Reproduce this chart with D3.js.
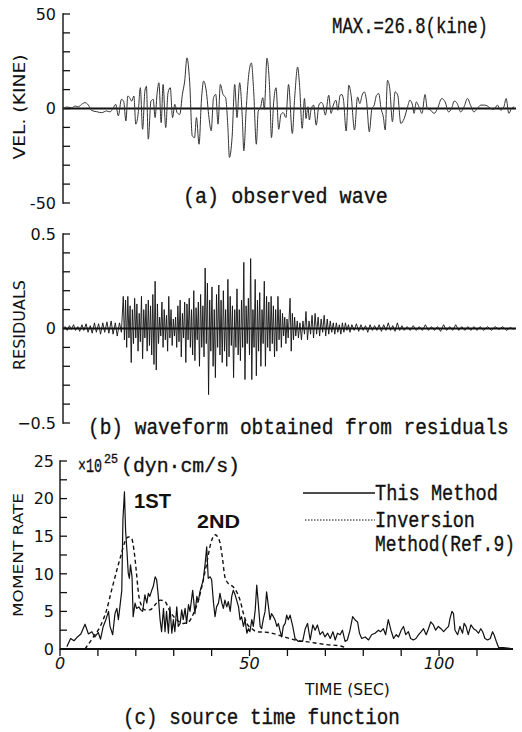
<!DOCTYPE html>
<html>
<head>
<meta charset="utf-8">
<script src="https://cdn.jsdelivr.net/npm/d3@7"></script>
<style>
	body { margin: 0; background: #fff; }
	svg { display: block; }
</style>
</head>
<body>
<svg id="chart" width="522" height="732"></svg>
<script>
// (a) observed velocity wave, [time (s), kine]
var observedWave = [
	[0,-0.4],[1.0,0.8],[2.3,0.4],[3.2,1.3],[4.0,0.8],[4.9,2.2],[5.8,3.1],[6.7,1.8],[7.5,-1.0],[8.9,-1.7],
	[10.2,-2.2],[11.5,-1.3],[12.4,-1.8],[13.2,0.1],[13.9,2.2],[14.6,-3.9],[15.4,4.8],[16.0,3.9],[16.6,-6.6],[17.1,6.6],
	[17.6,5.7],[18.1,3.9],[18.7,6.6],[19.2,-8.3],[19.8,-3.1],[20.4,11.0],[21.0,-11.0],[21.6,9.2],[22.0,11.8],[22.5,-16.2],
	[23.2,3.9],[23.8,4.8],[24.3,-4.8],[24.8,7.5],[25.3,13.6],[25.9,-7.5],[26.4,12.7],[27.1,-10.1],[27.7,8.3],[28.3,11.0],
	[28.9,-4.8],[29.5,2.2],[30.1,-2.2],[30.8,-3.1],[31.5,7.5],[32.1,14.5],[32.7,26.8],[33.4,14.5],[34.1,-14.5],[34.7,-15.4],
	[35.2,-4.8],[35.9,-18.9],[36.5,3.9],[37.1,14.5],[37.8,9.2],[38.5,-4.8],[39.1,-11.8],[39.7,5.7],[40.3,7.5],[40.9,-8.3],
	[41.5,12.7],[42.2,7.5],[42.9,5.7],[43.5,-10.1],[43.9,-25.9],[44.6,-15.4],[45.3,12.7],[45.9,-4.8],[46.6,13.6],[47.3,-4.8],
	[47.7,-22.4],[48.3,-1.3],[49.0,18.0],[49.7,24.1],[50.3,9.2],[51.0,-18.9],[51.5,-1.3],[52.1,0.4],[52.7,5.7],[53.1,-0.4],
	[53.8,26.6],[54.5,11.0],[55.0,-15.4],[55.6,3.9],[56.2,11.0],[56.9,-11.0],[57.5,-3.1],[58.1,-2.2],[58.8,-4.8],[59.5,12.7],
	[60.5,-13.2],[61.1,5.3],[61.9,21.9],[62.4,12.3],[63.1,-10.5],[63.7,5.3],[64.1,-5.3],[64.6,0.9],[65.0,-6.1],[65.4,-0.9],
	[66.1,1.8],[66.8,-8.8],[67.5,1.8],[68.1,3.2],[68.5,2.6],[69.2,-3.5],[70.1,7.0],[70.7,-2.6],[71.3,1.8],[72.0,4.4],
	[72.5,-0.9],[73.1,7.0],[73.6,7.4],[74.0,4.4],[74.7,-11.9],[75.4,12.3],[76.0,7.0],[76.9,-11.4],[77.7,6.1],[78.3,2.6],
	[78.9,7.0],[79.5,8.8],[80.1,3.5],[80.8,-12.3],[81.5,0],[82.1,1.8],[82.7,7.0],[83.3,7.9],[83.9,0],[84.5,-4.4],
	[85.0,-11.4],[85.6,14.9],[86.2,10.5],[86.9,-7.0],[87.6,8.8],[88.3,7.0],[89.1,-7.9],[90.0,-5.3],[90.9,0.9],[91.5,4.4],
	[92.2,1.8],[92.6,-2.6],[93.2,3.5],[93.9,0.9],[94.7,-2.6],[95.5,7.4],[96.1,0],[97.0,-0.9],[97.9,-2.6],[98.8,0],
	[99.9,5.3],[100.8,3.5],[101.7,-1.8],[102.5,0],[103.2,3.9],[104.0,2.6],[104.9,-1.8],[105.8,0.9],[106.7,5.3],[107.5,1.8],
	[108.4,-1.8],[109.3,0],[110.2,1.8],[111.1,1.8],[111.9,1.4],[112.8,0],[113.7,-0.4],[114.6,1.8],[115.4,-0.9],[116.3,0.9],
	[116.9,5.3],[117.6,-2.6],[118.3,0],[119.0,0.9]
];

// (b) waveform from residuals, [time (s), residual]
var residualWave = [
	[0,0],[0.6,0.01],[1.1,-0.01],[1.7,0.015],[2.2,-0.005],[2.8,0.02],[3.3,-0.01],[3.9,0.01],[4.4,-0.015],[5.0,0.02],
	[5.5,-0.01],[6.1,0.025],[6.6,-0.02],[7.2,0.015],[7.7,-0.025],[8.3,0.03],[8.8,-0.02],[9.4,0.025],[9.9,-0.03],[10.5,0.03],
	[11.0,-0.02],[11.6,0.035],[12.1,-0.025],[12.7,0.04],[13.2,-0.03],[13.8,0.03],[14.3,-0.04],[14.9,0.03],[15.4,-0.02],
	[15.9,0.17],[16.2,-0.06],[16.5,0.15],[16.8,-0.1],[17.1,0.17],[17.4,-0.05],[17.7,0.12],[18.0,-0.18],[18.3,0.1],[18.6,-0.08],
	[18.9,0.16],[19.2,-0.05],[19.5,0.13],[19.8,-0.12],[20.1,0.08],[20.4,-0.07],[20.7,0.17],[21.0,-0.16],[21.3,0.1],[21.6,-0.05],
	[21.9,0.13],[22.2,-0.12],[22.5,0.15],[22.8,-0.09],[23.1,0.12],[23.4,-0.14],[23.7,0.18],[24.0,-0.19],[24.3,0.25],[24.6,-0.22],
	[24.9,0.13],[25.2,-0.08],[25.5,0.06],[25.8,-0.04],[26.1,0.14],[26.4,-0.1],[26.7,0.1],[27.0,-0.06],[27.3,0.07],[27.6,-0.12],
	[27.9,0.17],[28.2,-0.05],[28.5,0.1],[28.8,-0.09],[29.1,0.05],[29.4,-0.04],[29.7,0.06],[30.0,-0.1],[30.3,0.12],[30.6,-0.07],
	[30.9,0.15],[31.2,-0.15],[31.5,0.08],[31.8,-0.05],[32.1,0.14],[32.4,-0.18],[32.7,0.13],[33.0,-0.06],[33.3,0.16],[33.6,-0.1],
	[33.9,0.1],[34.2,-0.14],[34.5,0.2],[34.8,-0.17],[35.1,0.11],[35.4,-0.06],[35.7,0.14],[36.0,-0.2],[36.3,0.18],[36.6,-0.1],
	[36.9,0.12],[37.2,-0.15],[37.5,0.32],[37.8,-0.08],[38.1,0.24],[38.4,-0.35],[38.7,0.15],[39.0,-0.12],[39.3,0.22],[39.6,-0.2],
	[39.9,0.1],[40.2,-0.26],[40.5,0.18],[40.8,-0.1],[41.1,0.23],[41.4,-0.14],[41.7,0.15],[42.0,-0.18],[42.3,0.2],[42.6,-0.12],
	[42.9,0.1],[43.2,-0.2],[43.5,0.26],[43.8,-0.15],[44.1,0.17],[44.4,-0.09],[44.7,0.12],[45.0,-0.26],[45.3,0.1],[45.6,-0.1],
	[45.9,0.21],[46.2,-0.14],[46.5,0.1],[46.8,-0.17],[47.1,0.15],[47.4,-0.1],[47.7,0.35],[48.0,-0.27],[48.3,0.12],[48.6,-0.08],
	[48.9,0.16],[49.2,-0.14],[49.5,0.37],[49.8,-0.27],[50.1,0.1],[50.4,-0.1],[50.7,0.26],[51.0,-0.25],[51.3,0.15],[51.6,-0.12],
	[51.9,0.19],[52.2,-0.2],[52.5,0.1],[52.8,-0.08],[53.1,0.25],[53.4,-0.2],[53.7,0.17],[54.0,-0.1],[54.3,0.14],[54.6,-0.12],
	[54.9,0.17],[55.2,-0.08],[55.5,0.12],[55.8,-0.15],[56.1,0.1],[56.4,-0.12],[56.7,0.17],[57.0,-0.06],[57.3,0.1],[57.6,-0.1],
	[57.9,0.08],[58.2,-0.04],[58.5,0.06],[58.8,-0.08],[59.1,0.05],[59.4,-0.05],[59.9,0.16],[60.2,-0.12],[60.5,0.08],[60.8,-0.06],
	[61.1,0.06],[61.4,-0.04],[61.8,0.04],[62.1,-0.05],[62.5,0.03],[62.9,-0.06],[63.3,0.04],[63.7,-0.03],[64.1,0.09],[64.5,-0.06],
	[64.9,0.04],[65.3,-0.03],[65.7,0.07],[66.1,-0.05],[66.5,0.08],[66.9,-0.03],[67.3,0.06],[67.7,-0.04],[68.1,0.05],[68.5,-0.02],
	[68.9,0.07],[69.3,-0.04],[69.7,0.05],[70.1,-0.03],[70.5,0.04],[70.9,-0.02],[71.3,0.03],[71.7,-0.03],[72.1,0.03],[72.5,-0.02],
	[72.9,0.02],[73.3,-0.03],[73.7,0.03],[74.1,-0.02],[74.5,0.03],[74.9,-0.01],[75.3,0.02],[75.7,-0.02],[76.2,0.02],[76.8,-0.01],
	[77.4,0.025],[78.0,-0.015],[78.6,0.02],[79.2,-0.01],[79.8,0.015],[80.4,-0.02],[81.0,0.02],[81.6,-0.01],[82.2,0.015],[82.8,-0.01],
	[83.4,0.02],[84.0,-0.015],[84.6,0.02],[85.2,-0.01],[85.8,0.03],[86.4,-0.01],[87.0,0.015],[87.6,-0.015],[88.2,0.03],[88.8,-0.01],
	[89.4,0.015],[90.0,-0.01],[90.8,0.01],[91.6,-0.01],[92.4,0.015],[93.2,-0.01],[94.0,0.01],[94.8,-0.01],[95.6,0.02],[96.4,-0.01],
	[97.2,0.01],[98.0,-0.01],[98.8,0.01],[99.6,-0.015],[100.4,0.02],[101.2,-0.01],[102.0,0.01],[102.8,-0.01],[103.6,0.02],[104.4,-0.01],
	[105.2,0.01],[106.0,-0.01],[106.8,0.01],[107.6,-0.01],[108.4,0.01],[109.2,-0.01],[110.0,0.01],[111.0,-0.01],[112.0,0.01],[113.0,-0.01],
	[114.0,0.01],[115.0,-0.005],[116.0,0.01],[117.0,-0.01],[118.0,0.005],[119.0,-0.005]
];

// (c) source time function, this method, [time (s), x10^25 dyn.cm/s]
var thisMethod = [
	[1.8,0.3],[2.8,1.4],[3.7,1.1],[4.6,1.6],[5.5,2.0],[6.6,3.3],[7.5,2.0],[8.4,2.3],[9.2,1.6],[10.1,2.2],
	[10.7,1.3],[11.4,3.0],[12.1,3.9],[12.8,5.0],[13.2,3.0],[13.9,1.9],[14.5,4.7],[15.0,5.4],[15.4,3.9],[15.8,5.6],
	[16.3,7.8],[16.6,17.2],[17.0,20.9],[17.3,15.8],[17.7,12.7],[18.0,10.1],[18.3,9.4],[18.6,11.2],[19.0,9.6],[19.3,4.3],
	[19.8,6.1],[20.2,5.4],[20.8,5.6],[21.3,5.2],[21.8,5.0],[22.4,7.2],[22.9,6.1],[23.3,7.4],[23.7,7.0],[24.2,7.8],
	[24.6,8.3],[25.1,9.6],[25.5,9.2],[25.9,7.2],[26.4,3.9],[26.8,2.3],[27.3,5.4],[27.7,2.3],[28.1,5.0],[28.6,2.1],
	[29.0,5.6],[29.5,2.1],[29.9,3.9],[30.3,2.3],[30.8,5.6],[31.2,3.0],[31.7,3.4],[32.1,5.2],[32.5,3.9],[33.0,5.4],
	[33.4,3.4],[33.9,5.9],[34.3,5.0],[35.0,7.8],[35.6,4.7],[36.1,7.0],[36.5,6.3],[36.9,7.6],[37.4,8.5],[37.8,9.2],
	[38.3,11.4],[38.7,13.6],[39.1,9.4],[39.6,9.6],[40.0,9.2],[40.5,6.1],[40.9,4.3],[41.3,5.6],[41.8,6.1],[42.2,7.4],
	[42.7,6.1],[43.1,5.4],[43.5,6.5],[44.0,5.6],[44.4,6.3],[44.9,5.0],[45.3,7.0],[45.7,7.8],[46.2,7.2],[46.6,6.5],
	[47.1,5.6],[47.5,3.9],[47.9,4.3],[48.4,3.0],[48.8,3.9],[49.3,2.1],[49.7,2.7],[50.1,2.3],[50.6,3.9],[51.0,3.0],
	[51.5,5.2],[51.9,8.5],[52.3,6.1],[52.8,3.0],[53.2,2.7],[53.6,3.9],[54.1,5.0],[54.5,7.6],[55.0,5.6],[55.4,3.9],
	[55.8,4.7],[56.3,4.3],[56.7,3.9],[57.2,3.0],[57.6,3.4],[58.0,2.5],[58.5,1.6],[58.9,3.0],[59.4,3.4],[59.8,4.5],
	[60.2,3.9],[60.7,4.5],[61.4,3.0],[62.0,1.4],[62.9,1.0],[64.0,1.0],[64.7,2.7],[65.3,3.4],[66.0,1.2],[66.7,3.2],
	[67.3,2.5],[67.9,3.2],[68.6,1.9],[69.3,2.3],[69.9,1.6],[70.6,2.1],[71.3,1.4],[72.0,2.3],[72.6,1.2],[73.2,2.1],
	[73.9,1.9],[74.5,2.5],[75.2,1.0],[75.8,1.2],[76.5,2.5],[77.2,4.3],[77.8,3.9],[78.5,3.6],[79.0,2.1],[79.6,1.4],
	[80.5,1.6],[81.4,1.2],[82.2,1.9],[83.1,2.1],[84.0,2.5],[84.6,2.3],[85.3,2.7],[85.9,1.9],[86.6,3.9],[87.3,2.5],
	[88.0,1.4],[88.7,1.9],[89.3,1.6],[90.0,2.5],[90.6,3.0],[91.2,1.9],[91.9,2.3],[92.5,1.4],[93.2,1.2],[93.9,1.4],
	[94.6,1.9],[95.3,2.3],[95.9,2.7],[96.6,1.9],[97.2,2.7],[97.8,3.6],[98.5,3.2],[99.1,2.5],[99.8,3.0],[100.5,2.7],
	[101.2,2.3],[101.9,2.7],[102.5,3.0],[102.9,4.1],[103.4,5.0],[103.8,4.7],[104.2,2.5],[104.9,1.9],[105.5,3.0],[106.2,2.1],
	[106.6,3.4],[107.1,3.0],[107.7,1.9],[108.4,3.2],[109.1,2.7],[109.7,2.5],[110.4,2.1],[111.0,2.7],[111.5,2.3],[112.1,1.4],
	[112.8,1.2],[113.5,1.4],[114.1,2.3],[114.5,1.9],[115.1,1.0],[115.7,0.2],[117.0,0.2],[118.7,0.1]
];

// (c) inversion method (Ref. 9)
var inversionMethod = [
	[6.6,0],[8.8,1.6],[10.6,3.0],[12.3,5.2],[13.6,7.8],[15.0,10.5],[16.1,12.5],[17.0,14.1],[18.0,14.9],[18.9,14.7],
	[19.5,13.2],[20.1,10.5],[20.7,7.4],[21.4,5.9],[22.4,5.2],[23.7,5.2],[25.1,5.9],[26.4,6.5],[27.7,6.3],[29.0,5.0],
	[30.8,3.9],[32.5,3.4],[33.9,3.6],[35.2,4.7],[36.5,6.5],[37.6,8.7],[38.7,11.4],[39.8,14.1],[40.9,15.2],[42.0,14.5],
	[42.8,12.3],[43.5,9.6],[44.4,8.7],[45.6,8.3],[46.6,7.6],[47.5,6.5],[48.4,4.7],[49.3,3.4],[50.6,2.7],[51.9,2.3],
	[55.0,2.2],[58.0,1.8],[62.0,1.2],[66.0,0.9],[70.0,0.6],[74.0,0.4],[76.0,0]
];

var velTicks = d3.range(-50, 51, 10);
var velLabels = [50, 0, -50];
var resTicks = d3.range(-5, 6).map(function (d) { return d / 10; });
var resLabels = [0.5, 0, -0.5];
var rateTicks = d3.range(0, 25.1, 2.5);
var rateLabels = [0, 5, 10, 15, 20, 25];
var timeTicks = d3.range(0, 111, 10);
var timeLabels = [0, 50, 100];

var svg = d3.select('#chart');
var ink = '#111';
var mono = '"Liberation Mono", "Courier New", monospace';
var sans = '"DejaVu Sans", sans-serif';
var bold = '"Liberation Sans", Arial, sans-serif';

var xA = d3.scaleLinear().domain([0, 119.5]).range([63, 516]);
var yA = d3.scaleLinear().domain([-50, 50]).range([203, 14]);
var yB = d3.scaleLinear().domain([-0.5, 0.5]).range([423, 234]);
var xC = d3.scaleLinear().domain([0, 119.5]).range([60, 513]);
var yC = d3.scaleLinear().domain([0, 25]).range([649, 461]);

// vertical axis with short ticks pointing into the plot
function yAxis(scale, x, ticks) {
	var g = svg.append('g');
	g.append('line')
		.attr('x1', x).attr('x2', x)
		.attr('y1', scale.range()[0] + 0.7).attr('y2', scale.range()[1] - 0.7)
		.attr('stroke', ink).attr('stroke-width', 1.4);
	g.selectAll('line.tick')
		.data(ticks)
		.enter().append('line')
		.attr('class', 'tick')
		.attr('x1', x).attr('x2', x + 7)
		.attr('y1', function (d) { return scale(d); })
		.attr('y2', function (d) { return scale(d); })
		.attr('stroke', ink).attr('stroke-width', 1.3);
}

function tickLabels(scale, x, values, fmt) {
	svg.append('g').selectAll('text')
		.data(values)
		.enter().append('text')
		.attr('x', x)
		.attr('y', function (d) { return scale(d); })
		.attr('dy', '0.36em')
		.attr('text-anchor', 'end')
		.attr('font-family', sans)
		.attr('font-size', 16)
		.attr('fill', ink)
		.text(fmt);
}

// text squeezed sideways to the width it has in the figure
function label(txt, x, y, size, len, font, weight) {
	var t = svg.append('text')
		.attr('transform', 'translate(' + x + ',' + y + ')')
		.attr('font-family', font)
		.attr('font-size', size)
		.attr('font-weight', weight || 'normal')
		.attr('fill', ink)
		.text(txt);
	if (font === mono) t.attr('stroke', ink).attr('stroke-width', 0.35);
	var w = t.node().getComputedTextLength();
	if (len && w > 0) t.attr('transform', 'translate(' + x + ',' + y + ') scale(' + (len / w) + ',1)');
	return t;
}

function sideLabel(txt, cx, cy, size, len) {
	svg.append('text')
		.attr('transform', 'translate(' + cx + ',' + cy + ') rotate(-90)')
		.attr('text-anchor', 'middle')
		.attr('font-family', sans)
		.attr('font-size', size)
		.attr('fill', ink)
		.attr('textLength', len)
		.attr('lengthAdjust', 'spacingAndGlyphs')
		.text(txt);
}

// ---- (a) observed wave
yAxis(yA, 63, velTicks);
tickLabels(yA, 56, velLabels, function (d) { return d; });
sideLabel('VEL. (KINE)', 25, 107, 16, 105);

svg.append('line')
	.attr('x1', xA(0)).attr('x2', xA(119.5))
	.attr('y1', yA(0)).attr('y2', yA(0))
	.attr('stroke', ink).attr('stroke-width', 2);

svg.append('path')
	.datum(observedWave)
	.attr('fill', 'none')
	.attr('stroke', '#333')
	.attr('stroke-width', 1)
	.attr('d', d3.line()
		.x(function (d) { return xA(d[0]); })
		.y(function (d) { return yA(d[1]); })
		.curve(d3.curveMonotoneX));

label('MAX.=26.8(kine)', 332, 33, 22, 156, mono);
label('(a) observed wave', 183, 203, 22, 205, mono);

// ---- (b) residuals
yAxis(yB, 63, resTicks);
tickLabels(yB, 56, resLabels, function (d) { return d === 0 ? '0' : d3.format('.1f')(d); });
sideLabel('RESIDUALS', 25, 325, 16, 90);

svg.append('line')
	.attr('x1', xA(0)).attr('x2', xA(119.5))
	.attr('y1', yB(0)).attr('y2', yB(0))
	.attr('stroke', ink).attr('stroke-width', 2);

svg.append('path')
	.datum(residualWave)
	.attr('fill', 'none')
	.attr('stroke', '#111')
	.attr('stroke-width', 0.9)
	.attr('d', d3.line()
		.x(function (d) { return xA(d[0]); })
		.y(function (d) { return yB(d[1]); }));

label('(b) waveform obtained from residuals', 88, 434, 22, 421, mono);

// ---- (c) source time function
yAxis(yC, 60, rateTicks);
tickLabels(yC, 54, rateLabels, function (d) { return d; });
sideLabel('MOMENT RATE', 23, 555, 14, 124);

svg.append('line')
	.attr('x1', xC(0)).attr('x2', xC(119.5))
	.attr('y1', yC(0)).attr('y2', yC(0))
	.attr('stroke', ink).attr('stroke-width', 2);
svg.append('g').selectAll('line')
	.data(timeTicks)
	.enter().append('line')
	.attr('x1', function (d) { return xC(d); })
	.attr('x2', function (d) { return xC(d); })
	.attr('y1', yC(0)).attr('y2', yC(0) + 7)
	.attr('stroke', ink).attr('stroke-width', 1.3);

svg.append('g').selectAll('text')
	.data(timeLabels)
	.enter().append('text')
	.attr('x', function (d) { return xC(d); })
	.attr('y', 669)
	.attr('text-anchor', 'middle')
	.attr('font-family', sans)
	.attr('font-style', 'italic')
	.attr('font-size', 16)
	.attr('fill', ink)
	.text(function (d) { return d; });

label('TIME (SEC)', 305, 695, 15, 85, sans);

svg.append('path')
	.datum(inversionMethod)
	.attr('fill', 'none')
	.attr('stroke', ink)
	.attr('stroke-width', 1.4)
	.attr('stroke-dasharray', '4,3')
	.attr('d', d3.line()
		.x(function (d) { return xC(d[0]); })
		.y(function (d) { return yC(d[1]); })
		.curve(d3.curveMonotoneX));

svg.append('path')
	.datum(thisMethod)
	.attr('fill', 'none')
	.attr('stroke', ink)
	.attr('stroke-width', 1.2)
	.attr('stroke-linejoin', 'round')
	.attr('d', d3.line()
		.x(function (d) { return xC(d[0]); })
		.y(function (d) { return yC(d[1]); }));

// unit note with raised exponent
label('\u00d710', 78, 472, 20, 24, mono);
label('25', 104, 463, 12, 14, mono);
label('(dyn\u00b7cm/s)', 121, 472, 20, 119, mono);

label('1ST', 134, 508, 20, 37, bold, 'bold');
label('2ND', 197, 528, 18, 43, bold, 'bold');

// legend
svg.append('line')
	.attr('x1', 303).attr('x2', 375).attr('y1', 493).attr('y2', 493)
	.attr('stroke', ink).attr('stroke-width', 1.4);
svg.append('line')
	.attr('x1', 305).attr('x2', 375).attr('y1', 520).attr('y2', 520)
	.attr('stroke', ink).attr('stroke-width', 1)
	.attr('stroke-dasharray', '1.5,1.5');
label('This Method', 375, 500, 22, 123, mono);
label('Inversion', 375, 527, 22, 100, mono);
label('Method(Ref.9)', 375, 551, 22, 140, mono);

label('(c) source time function', 123, 724, 22, 277, mono);
</script>
</body>
</html>
